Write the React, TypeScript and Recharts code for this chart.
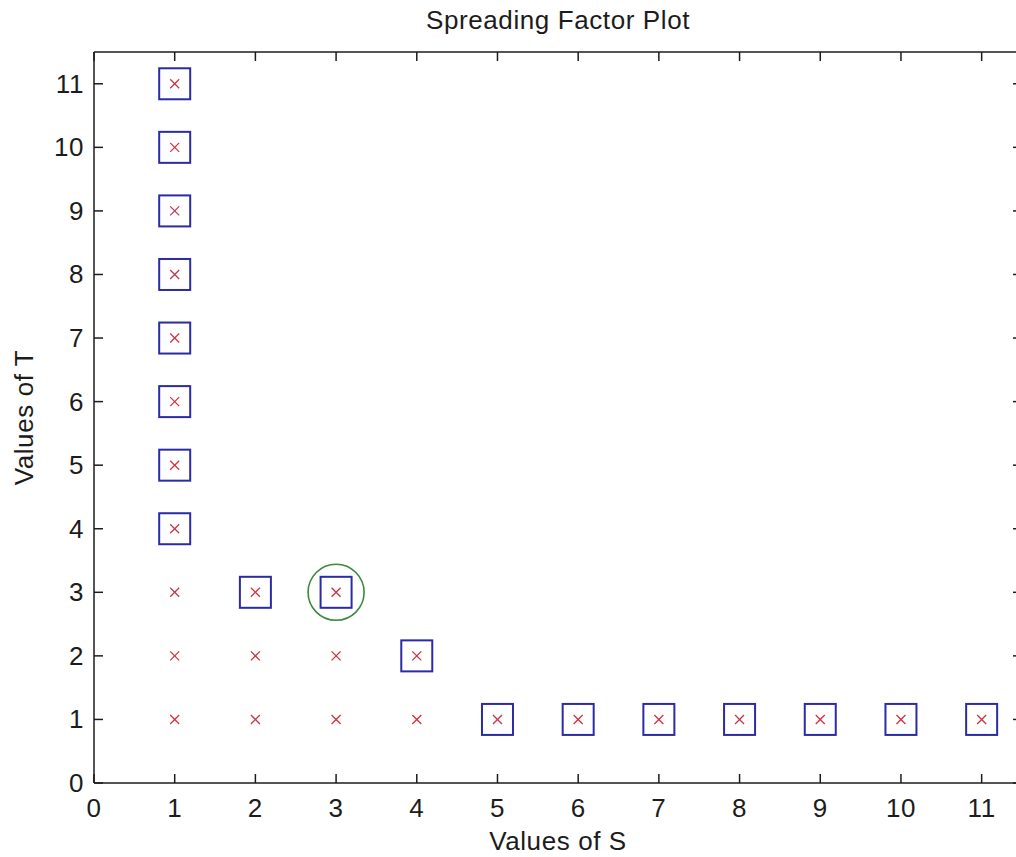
import React from "react";
import {
  ScatterChart,
  Scatter,
  XAxis,
  YAxis,
  Label,
} from "recharts";

// every (S, T) pair that was evaluated (red crosses)
const evalS = [1, 1, 1, 1, 1, 1, 1, 1, 1, 1, 1, 2, 2, 2, 3, 3, 3, 4, 4, 5, 6, 7, 8, 9, 10, 11];
const evalT = [1, 2, 3, 4, 5, 6, 7, 8, 9, 10, 11, 1, 2, 3, 1, 2, 3, 1, 2, 1, 1, 1, 1, 1, 1, 1];

// boundary pairs (blue squares)
const boxS = [1, 1, 1, 1, 1, 1, 1, 1, 2, 3, 4, 5, 6, 7, 8, 9, 10, 11];
const boxT = [4, 5, 6, 7, 8, 9, 10, 11, 3, 3, 2, 1, 1, 1, 1, 1, 1, 1];

// chosen pair (green circle)
const bestS = [3];
const bestT = [3];

const ticks = [0, 1, 2, 3, 4, 5, 6, 7, 8, 9, 10, 11];

const toPoints = (s: number[], t: number[]) => s.map((v, i) => ({ s: v, t: t[i] }));
const evalData = toPoints(evalS, evalT);
const boxData = toPoints(boxS, boxT);
const bestData = toPoints(bestS, bestT);

const FONT = "'Liberation Sans', Arial, sans-serif";
const INK = "#1c1c1c";
const TICK = 9;

const Cross = (p: any) => (
  <g stroke="#cc3344" strokeWidth={1.3}>
    <line x1={p.cx - 4.5} y1={p.cy - 4.5} x2={p.cx + 4.5} y2={p.cy + 4.5} />
    <line x1={p.cx - 4.5} y1={p.cy + 4.5} x2={p.cx + 4.5} y2={p.cy - 4.5} />
  </g>
);

const Box = (p: any) => (
  <rect x={p.cx - 15.5} y={p.cy - 15.5} width={31} height={31} fill="none" stroke="#2b2ba6" strokeWidth={2} />
);

const Ring = (p: any) => (
  <circle cx={p.cx} cy={p.cy} r={28} fill="none" stroke="#3a8a3a" strokeWidth={1.6} />
);

const textStyle = { fontFamily: FONT, fontSize: 26, fill: INK, letterSpacing: 0.6 };

const BottomTick = (p: any) => (
  <g>
    <line x1={p.x} y1={p.y} x2={p.x} y2={p.y - TICK} stroke={INK} strokeWidth={1.5} />
    <text x={p.x} y={p.y + 34} textAnchor="middle" {...textStyle}>{p.payload.value}</text>
  </g>
);

const TopTick = (p: any) => (
  <line x1={p.x} y1={p.y} x2={p.x} y2={p.y + TICK} stroke={INK} strokeWidth={1.5} />
);

const LeftTick = (p: any) => (
  <g>
    <line x1={p.x} y1={p.y} x2={p.x + TICK} y2={p.y} stroke={INK} strokeWidth={1.5} />
    <text x={p.x - 10} y={p.y + 9} textAnchor="end" {...textStyle}>{p.payload.value}</text>
  </g>
);

const RightTick = (p: any) => (
  <line x1={p.x} y1={p.y} x2={p.x - TICK} y2={p.y} stroke={INK} strokeWidth={1.5} />
);

export default function App() {
  return (
    <div style={{ position: "fixed", left: 0, top: 0, width: 1016, height: 857, overflow: "hidden", background: "#fff" }}>
      <ScatterChart width={1023} height={857} margin={{ top: 51, right: 0, bottom: 0, left: 0 }}>
        <XAxis
          xAxisId="b"
          type="number"
          dataKey="s"
          domain={[0, 11.5]}
          ticks={ticks}
          height={74}
          tickSize={0}
          tickMargin={0}
          tickLine={false}
          tick={BottomTick}
          axisLine={{ stroke: INK, strokeWidth: 1.5 }}
          allowDataOverflow
        >
          <Label
            content={(props: any) => {
              const cx = props.viewBox.x + props.viewBox.width / 2;
              return (
                <g>
                  <text x={cx} y={850} textAnchor="middle" {...textStyle}>
                    Values of S
                  </text>
                  <text x={cx} y={29} textAnchor="middle" {...textStyle}>
                    Spreading Factor Plot
                  </text>
                </g>
              );
            }}
          />
        </XAxis>
        <XAxis
          xAxisId="t"
          orientation="top"
          type="number"
          dataKey="s"
          domain={[0, 11.5]}
          ticks={ticks}
          height={1}
          tickSize={0}
          tickMargin={0}
          tickLine={false}
          tick={TopTick}
          axisLine={{ stroke: INK, strokeWidth: 1.5 }}
          allowDataOverflow
        />
        <YAxis
          yAxisId="l"
          type="number"
          dataKey="t"
          domain={[0, 11.5]}
          ticks={ticks}
          width={94}
          tickSize={0}
          tickMargin={0}
          tickLine={false}
          tick={LeftTick}
          axisLine={{ stroke: INK, strokeWidth: 1.5 }}
          allowDataOverflow
        >
          <Label
            content={(props: any) => {
              const cy = props.viewBox.y + props.viewBox.height / 2;
              return (
                <text x={33} y={cy} textAnchor="middle" transform={`rotate(-90, 33, ${cy})`} {...textStyle}>
                  Values of T
                </text>
              );
            }}
          />
        </YAxis>
        <YAxis
          yAxisId="r"
          orientation="right"
          type="number"
          dataKey="t"
          domain={[0, 11.5]}
          ticks={ticks}
          width={1}
          tickSize={0}
          tickMargin={0}
          tickLine={false}
          tick={RightTick}
          axisLine={{ stroke: INK, strokeWidth: 1.5 }}
          allowDataOverflow
        />
        <Scatter xAxisId="b" yAxisId="l" data={boxData} shape={Box} isAnimationActive={false} />
        <Scatter xAxisId="b" yAxisId="l" data={evalData} shape={Cross} isAnimationActive={false} />
        <Scatter xAxisId="b" yAxisId="l" data={bestData} shape={Ring} isAnimationActive={false} />
      </ScatterChart>
    </div>
  );
}
